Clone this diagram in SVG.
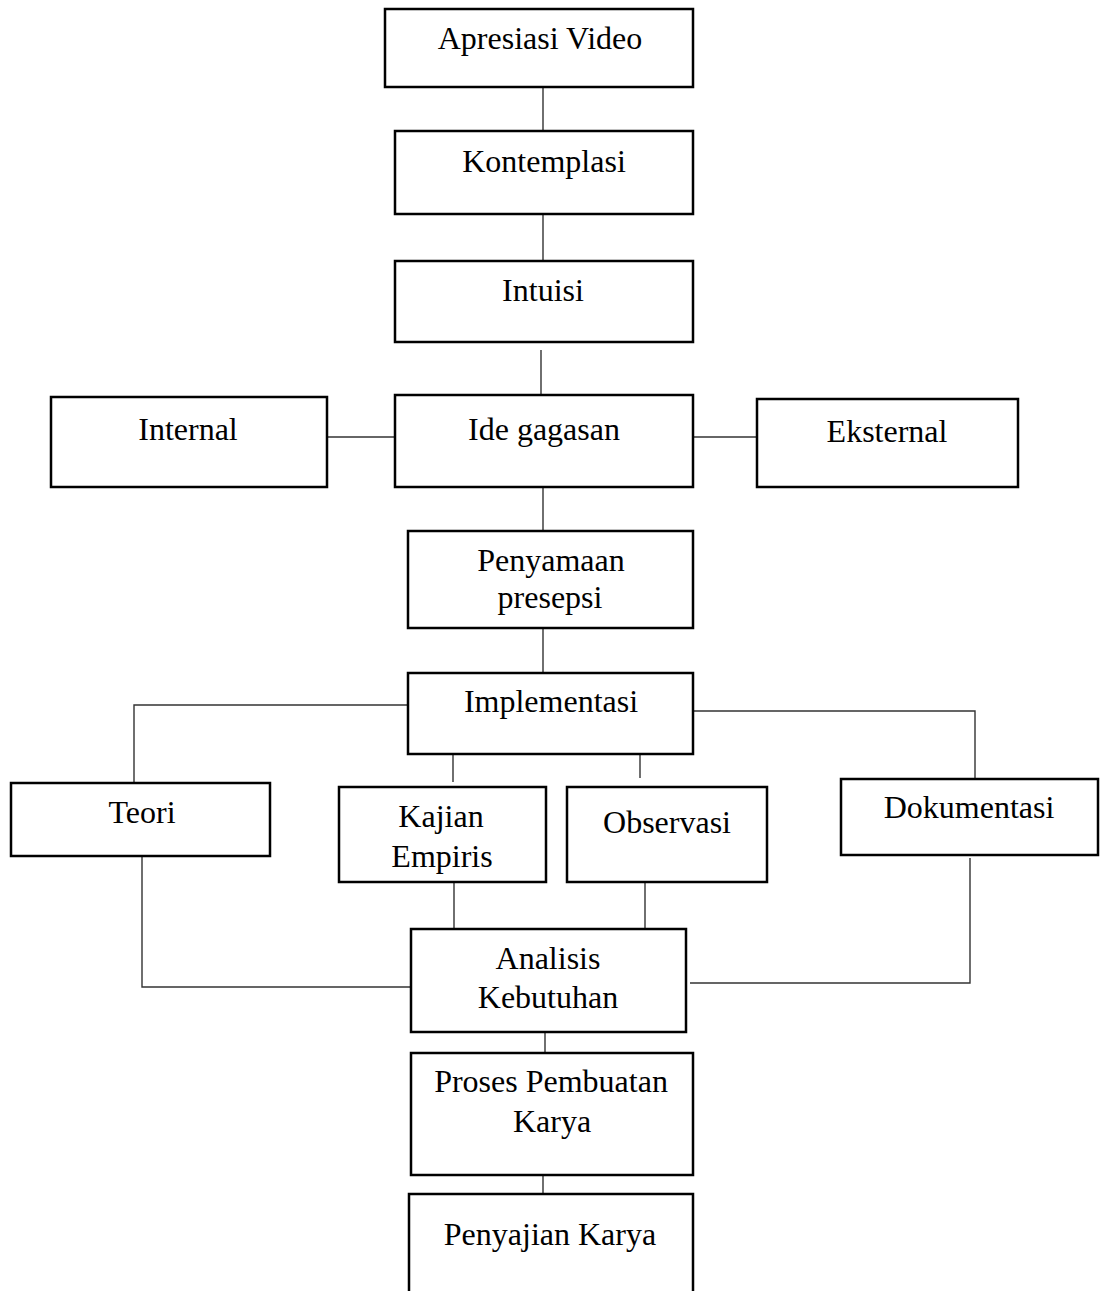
<svg xmlns="http://www.w3.org/2000/svg" width="1101" height="1291" viewBox="0 0 1101 1291">
<style>
.box{fill:#fff;stroke:#000;stroke-width:2.5}
.t{font-family:"Liberation Serif","Times New Roman",serif;font-size:32px;fill:#000;text-anchor:middle}
.c{fill:none;stroke:#333;stroke-width:1.4}
</style>
<rect width="1101" height="1291" fill="#fff"/>
<g id="connectors">
<line class="c" x1="543" y1="87" x2="543" y2="131"/>
<line class="c" x1="543" y1="214" x2="543" y2="261"/>
<line class="c" x1="541" y1="350" x2="541" y2="395"/>
<line class="c" x1="327" y1="437" x2="395" y2="437"/>
<line class="c" x1="693" y1="437" x2="757" y2="437"/>
<line class="c" x1="543" y1="487" x2="543" y2="531"/>
<line class="c" x1="543" y1="628" x2="543" y2="673"/>
<polyline class="c" points="408,705 134,705 134,787"/>
<polyline class="c" points="693,711 975,711 975,780"/>
<line class="c" x1="453" y1="755" x2="453" y2="782"/>
<line class="c" x1="640" y1="750" x2="640" y2="778"/>
<polyline class="c" points="142,857 142,987 411,987"/>
<line class="c" x1="454" y1="882" x2="454" y2="929"/>
<line class="c" x1="645" y1="882" x2="645" y2="929"/>
<polyline class="c" points="690,983 970,983 970,858"/>
<line class="c" x1="545" y1="1032" x2="545" y2="1053"/>
<line class="c" x1="543" y1="1175" x2="543" y2="1194"/>
</g>
<g id="apresiasi"><rect class="box" x="385" y="9" width="308" height="78"/><text class="t" x="540" y="49">Apresiasi Video</text></g>
<g id="kontemplasi"><rect class="box" x="395" y="131" width="298" height="83"/><text class="t" x="544" y="172">Kontemplasi</text></g>
<g id="intuisi"><rect class="box" x="395" y="261" width="298" height="81"/><text class="t" x="543" y="301">Intuisi</text></g>
<g id="internal"><rect class="box" x="51" y="397" width="276" height="90"/><text class="t" x="188" y="440">Internal</text></g>
<g id="ide"><rect class="box" x="395" y="395" width="298" height="92"/><text class="t" x="544" y="440">Ide gagasan</text></g>
<g id="eksternal"><rect class="box" x="757" y="399" width="261" height="88"/><text class="t" x="887" y="442">Eksternal</text></g>
<g id="penyamaan"><rect class="box" x="408" y="531" width="285" height="97"/><text class="t" x="551" y="571">Penyamaan</text><text class="t" x="550" y="608">presepsi</text></g>
<g id="implementasi"><rect class="box" x="408" y="673" width="285" height="81"/><text class="t" x="551" y="712">Implementasi</text></g>
<g id="teori"><rect class="box" x="11" y="783" width="259" height="73"/><text class="t" x="142" y="823">Teori</text></g>
<g id="kajian"><rect class="box" x="339" y="787" width="207" height="95"/><text class="t" x="441" y="827">Kajian</text><text class="t" x="442" y="867">Empiris</text></g>
<g id="observasi"><rect class="box" x="567" y="787" width="200" height="95"/><text class="t" x="667" y="833">Observasi</text></g>
<g id="dokumentasi"><rect class="box" x="841" y="779" width="257" height="76"/><text class="t" x="969" y="818">Dokumentasi</text></g>
<g id="analisis"><rect class="box" x="411" y="929" width="275" height="103"/><text class="t" x="548" y="969">Analisis</text><text class="t" x="548" y="1008">Kebutuhan</text></g>
<g id="proses"><rect class="box" x="411" y="1053" width="282" height="122"/><text class="t" x="551" y="1092">Proses Pembuatan</text><text class="t" x="552" y="1132">Karya</text></g>
<g id="penyajian"><rect class="box" x="409" y="1194" width="284" height="110"/><text class="t" x="550" y="1245">Penyajian Karya</text></g>
</svg>
